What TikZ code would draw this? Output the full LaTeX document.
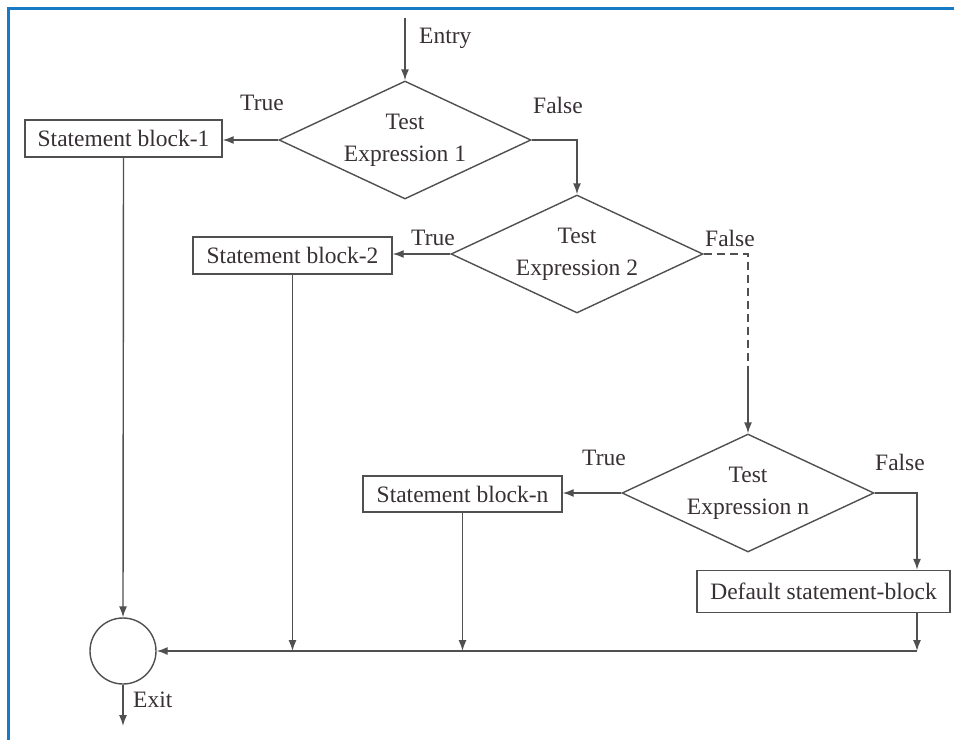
\documentclass[tikz,border=0pt]{standalone}
\usepackage{fontspec}
\setmainfont{Liberation Serif}
\usetikzlibrary{shapes.geometric,arrows.meta,calc}
\definecolor{frameblue}{RGB}{24,122,196}
\definecolor{linegray}{RGB}{80,80,80}
\definecolor{textgray}{RGB}{55,48,52}
\begin{document}
\begin{tikzpicture}[x=1pt,y=-1pt,
  every node/.style={font=\fontsize{23.5}{32}\selectfont, text=textgray},
  dia/.style={diamond, draw=linegray, line width=1.4pt, minimum width=252pt, minimum height=118pt, inner sep=0pt},
  diatext/.style={align=center, inner sep=0pt},
  blk/.style={rectangle, draw=linegray, line width=1.4pt, inner sep=0pt},
  conn/.style={draw=linegray, line width=1.4pt},
  arr/.style={conn, -{Latex[length=11pt,width=8pt]}},
  lbl/.style={inner sep=0pt}
]
\useasboundingbox (0,0) rectangle (954,740);
\fill[white] (0,0) rectangle (954,740);
% frame
\draw[frameblue, line width=3pt] (8,740) -- (8,8) -- (954,8);

% nodes
\node[dia] (d1) at (405,140) {};
\node[diatext] (t1) at (d1.center) {Test\\Expression 1};
\node[dia] (d2) at (577,254) {};
\node[diatext] (t2) at (d2.center) {Test\\Expression 2};
\node[dia] (dn) at (748,493) {};
\node[diatext] (tn) at (dn.center) {Test\\Expression n};
\node[blk, minimum width=197pt, minimum height=37pt] (b1) at (123.5,138.5) {Statement block-1};
\node[blk, minimum width=199pt, minimum height=37pt] (b2) at (292.5,255.5) {Statement block-2};
\node[blk, minimum width=199pt, minimum height=36pt] (bn) at (462.5,494) {Statement block-n};
\node[blk, minimum width=253pt, minimum height=42pt] (bd) at (823.5,591.5) {Default statement-block};
\node[circle, draw=linegray, line width=1.4pt, minimum size=66pt, inner sep=0pt] (ex) at (123,651) {};

% labels
\node[lbl, anchor=west] (lentry) at (419,38) {Entry};
\node[lbl] (lt1) at (262,103) {True};
\node[lbl] (lf1) at (558,105) {False};
\node[lbl] (lt2) at (433,238) {True};
\node[lbl] (lf2) at (730,238) {False};
\node[lbl] (ltn) at (604,458) {True};
\node[lbl] (lfn) at (900,462) {False};
\node[lbl, anchor=west] (lexit) at (133,700) {Exit};

% coordinates
\coordinate (entry) at (405,18);
\coordinate (dash1) at (dn.north |- 0,370);
\coordinate (merge2) at (b2.south |- ex.east);
\coordinate (mergen) at (bn.south |- ex.east);
\coordinate (merged) at (917,651);
\coordinate (exitend) at (123,726);

% connectors
\draw[arr] (entry) -- (d1.north);
\draw[arr] (d1.west) -- (d1.west -| b1.east);
\draw[arr] (d1.east) -| (d2.north);
\draw[arr] (d2.west) -- (d2.west -| b2.east);
\draw[conn, dash pattern=on 8pt off 5pt] (d2.east) -| (dash1);
\draw[arr] (dash1) -- (dn.north);
\draw[arr] (dn.west) -- (dn.west -| bn.east);
\draw[arr] (dn.east) -| (bd.north -| merged);
\draw[arr] (b1.south) -- (ex.north);
\draw[arr] (b2.south) -- (merge2);
\draw[arr] (bn.south) -- (mergen);
\draw[arr] (bd.south -| merged) -- (merged);
\draw[arr] (merged) -- (ex.east);
\draw[arr] (ex.south) -- (exitend);
\end{tikzpicture}
\end{document}
